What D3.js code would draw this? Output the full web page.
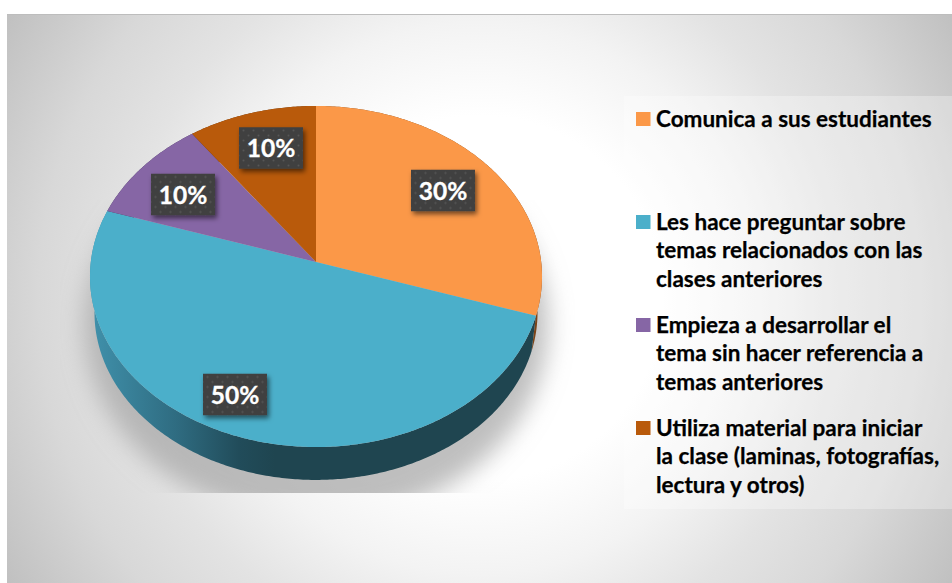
<!DOCTYPE html>
<html>
<head>
<meta charset="utf-8">
<script src="https://cdn.jsdelivr.net/npm/d3@7"></script>
<style>
    html, body { margin: 0; padding: 0; background: #fff; }
    svg { display: block; }
    text { font-family: Lato, Carlito, "Open Sans", sans-serif; font-weight: 700; }
</style>
</head>
<body>
<svg id="chart" width="952" height="583"></svg>
<script>
// chart values
const categories = ['Comunica a sus estudiantes', 'Les hace preguntar sobre temas', 'Empieza a desarrollar el tema', 'Utiliza material para iniciar'];
const values = [30, 50, 10, 10];
const valueLabels = ['30%', '50%', '10%', '10%'];
const colors = ['#fb9848', '#4bafca', '#8666a5', '#b95a0b'];
const wallColors = ['#7c4417', 'url(#wallBlue)', '#43345a', '#5e2f08'];
const legendLines = [
    ['Comunica a sus estudiantes'],
    ['Les hace preguntar sobre', 'temas relacionados con las', 'clases anteriores'],
    ['Empieza a desarrollar el', 'tema sin hacer referencia a', 'temas anteriores'],
    ['Utiliza material para iniciar', 'la clase (laminas, fotografías,', 'lectura y otros)']
];

// layout
const width = 952, height = 583;
const apex = { x: 316, y: 262 };      // where the slices meet
const tilt = { rx: 225.2, ry: 169.3, persp: 0.085 };
const wall = { drop: 36.6, scale: 0.98 };
const labelBox = { w: 64, h: 41.5 };
const labelCenters = [[443, 190.5], [235, 394.5], [183, 194.5], [271, 148]];
const legendRows = [126, 229, 332, 435];
const lineStep = 28.8;

const svg = d3.select('#chart');
const defs = svg.append('defs');

// page background, white in the middle and grey towards the corners
const bg = defs.append('radialGradient').attr('id', 'bg')
    .attr('gradientUnits', 'userSpaceOnUse')
    .attr('cx', 480).attr('cy', 298).attr('r', 552);
[[0.33, '#ffffff'], [0.5, '#f3f3f3'], [0.65, '#e3e3e3'], [0.8, '#d8d8d8'], [1, '#c0c0c0']].forEach(s => {
    bg.append('stop').attr('offset', s[0]).attr('stop-color', s[1]);
});

// the front wall of the big slice goes dark from left to right
const wb = defs.append('linearGradient').attr('id', 'wallBlue')
    .attr('gradientUnits', 'userSpaceOnUse')
    .attr('x1', 95).attr('x2', 275).attr('y1', 0).attr('y2', 0);
[[0, '#3f8fa9'], [0.45, '#2f6c81'], [0.8, '#214c5a'], [1, '#1f4550']].forEach(s => {
    wb.append('stop').attr('offset', s[0]).attr('stop-color', s[1]);
});

const blur = defs.append('filter').attr('id', 'blur')
    .attr('x', '-20%').attr('y', '-20%').attr('width', '140%').attr('height', '140%');
blur.append('feGaussianBlur').attr('stdDeviation', 12);

const drop = defs.append('filter').attr('id', 'labelShadow')
    .attr('x', '-30%').attr('y', '-30%').attr('width', '170%').attr('height', '170%');
drop.append('feDropShadow').attr('dx', 2).attr('dy', 3).attr('stdDeviation', 2.5)
    .attr('flood-color', '#000').attr('flood-opacity', 0.55);

const dots = defs.append('pattern').attr('id', 'dots')
    .attr('patternUnits', 'userSpaceOnUse').attr('width', 10).attr('height', 10);
dots.append('rect').attr('width', 10).attr('height', 10).attr('fill', '#404040');
dots.append('circle').attr('cx', 2.5).attr('cy', 2.5).attr('r', 1).attr('fill', '#575757');
dots.append('circle').attr('cx', 7.5).attr('cy', 7.5).attr('r', 1).attr('fill', '#575757');

defs.append('clipPath').attr('id', 'shadowClip').append('rect')
    .attr('x', 60).attr('y', 200).attr('width', 515).attr('height', 293);

// background
svg.append('rect').attr('x', 7).attr('y', 14).attr('width', width - 7).attr('height', height - 14)
    .attr('fill', 'url(#bg)');
svg.append('rect').attr('x', 7).attr('y', 14).attr('width', width - 7).attr('height', 1)
    .attr('fill', '#bdbdbd');

// legend panel
svg.append('rect').attr('x', 624).attr('y', 96).attr('width', width - 624).attr('height', 413)
    .attr('fill', '#fff').attr('fill-opacity', 0.3);

// project a point on the pie disc onto the screen, far side is drawn smaller
function project(angle, r, level) {
    const u = Math.sin(angle) * r, v = Math.cos(angle) * r;
    const k = 1 + tilt.persp * v;
    const s = level ? wall.scale : 1;
    return [
        apex.x + s * tilt.rx * u / k,
        apex.y + (level ? wall.drop : 0) - s * tilt.ry * v / k
    ];
}

const arcs = d3.pie().sort(null).value(d => d)(values);
const line = d3.line();

function arcPoints(d, level) {
    const steps = Math.ceil((d.endAngle - d.startAngle) * 90);
    return d3.range(steps + 1).map(i => {
        return project(d.startAngle + (d.endAngle - d.startAngle) * i / steps, 1, level);
    });
}

// shadow under the pie, the bottom is cut off by its square frame
svg.append('g').attr('clip-path', 'url(#shadowClip)')
    .append('ellipse')
    .attr('cx', apex.x).attr('cy', 325).attr('rx', 232).attr('ry', 195)
    .attr('fill', '#a4a4a4').attr('fill-opacity', 0.7)
    .attr('filter', 'url(#blur)');

// walls first, the top of the pie covers what is behind
svg.append('g').selectAll('path')
    .data(arcs)
    .join('path')
    .attr('d', d => line(arcPoints(d, 0).concat(arcPoints(d, 1).reverse())) + 'Z')
    .attr('fill', (d, i) => wallColors[i]);

// top of the pie
svg.append('g').selectAll('path')
    .data(arcs)
    .join('path')
    .attr('d', d => line([[apex.x, apex.y]].concat(arcPoints(d, 0))) + 'Z')
    .attr('fill', (d, i) => colors[i]);

// value labels
const labels = svg.append('g').selectAll('g')
    .data(valueLabels)
    .join('g')
    .attr('transform', (d, i) => `translate(${labelCenters[i][0]},${labelCenters[i][1]})`);
labels.append('rect')
    .attr('x', -labelBox.w / 2).attr('y', -labelBox.h / 2)
    .attr('width', labelBox.w).attr('height', labelBox.h)
    .attr('fill', 'url(#dots)')
    .attr('filter', 'url(#labelShadow)');
labels.append('text')
    .attr('text-anchor', 'middle').attr('y', 9)
    .attr('font-size', 24.5).attr('fill', '#fff')
    .attr('stroke', '#fff').attr('stroke-width', 0.3)
    .text(d => d);

// legend
const legend = svg.append('g').selectAll('g')
    .data(legendLines)
    .join('g')
    .attr('transform', (d, i) => `translate(0,${legendRows[i]})`);
legend.append('rect')
    .attr('x', 636).attr('y', -14).attr('width', 14.5).attr('height', 14)
    .attr('fill', (d, i) => colors[i]);
legend.selectAll('text')
    .data(d => d)
    .join('text')
    .attr('x', 656).attr('y', (d, i) => i * lineStep + 0.5)
    .attr('font-size', 22.5).attr('fill', '#000')
    .attr('stroke', '#000').attr('stroke-width', 0.25)
    .text(d => d);
</script>
</body>
</html>
